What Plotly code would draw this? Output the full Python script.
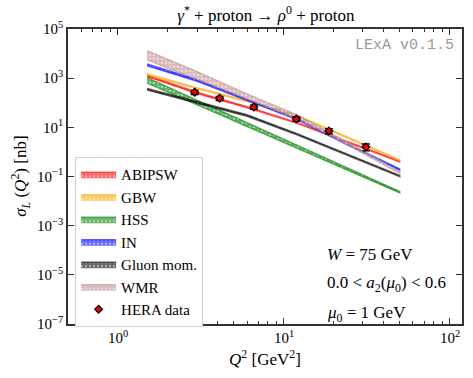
import plotly.graph_objects as go

# --- Data ---
q2_grid = [1.5, 3, 6, 12, 25, 50]

abipsw_hi = [1318, 269, 70, 15.8, 2.45, 0.427]
abipsw_lo = [1148, 234, 62.4, 14.5, 2.24, 0.389]

gbw_hi = [1514, 407, 123, 31.6, 3.72, 0.479]
gbw_lo = [1380, 372, 112, 28.8, 3.39, 0.437]

hss_hi = [1047, 126, 15.1, 1.82, 0.200, 0.0245]
hss_lo = [631, 83.2, 11.0, 1.45, 0.166, 0.0214]

in_hi = [3802, 881, 141, 23.4, 1.93, 0.202]
in_lo = [3162, 750, 123, 20.4, 1.72, 0.180]

gluon_hi = [380, 112, 32.4, 5.56, 0.750, 0.111]
gluon_lo = [331, 97.7, 28.2, 4.95, 0.668, 0.0989]

wmr_hi = [13183, 1862, 229, 32.4, 2.19, 0.158]
wmr_lo = [5495, 891, 145, 22.4, 1.74, 0.132]

hera_q2 = [2.9, 4.1, 6.6, 11.9, 18.7, 31.2]
hera_sigma = [267, 152, 67.5, 21.9, 7.1, 1.6]
hera_err = [50, 30, 13, 4.5, 1.7, 0.5]

x_ticks = [1, 10, 100]
x_ticklabels = ["10<sup>0</sup>", "10<sup>1</sup>", "10<sup>2</sup>"]

bands = [
    ("ABIPSW", abipsw_hi, abipsw_lo, "rgba(255,0,0,0.6)"),
    ("GBW", gbw_hi, gbw_lo, "rgba(255,165,0,0.6)"),
    ("HSS", hss_hi, hss_lo, "rgba(0,128,0,0.6)"),
    ("IN", in_hi, in_lo, "rgba(0,0,255,0.6)"),
    ("Gluon mom.", gluon_hi, gluon_lo, "rgba(0,0,0,0.6)"),
    ("WMR", wmr_hi, wmr_lo, "rgba(188,143,143,0.6)"),
]

SERIF = "Liberation Serif"

fig = go.Figure()

for name, hi, lo, col in bands:
    fig.add_trace(go.Scatter(
        x=q2_grid + q2_grid[::-1],
        y=hi + lo[::-1],
        mode="lines",
        fill="toself",
        fillcolor=col,
        fillpattern=dict(shape=".", fgcolor="white", bgcolor=col, size=4, solidity=0.25),
        line=dict(color=col, width=1.4),
        name=name,
    ))

fig.add_trace(go.Scatter(
    x=hera_q2, y=hera_sigma,
    mode="markers",
    marker=dict(symbol="diamond", color="#ee0000", size=6, line=dict(color="black", width=1.2)),
    error_y=dict(type="data", array=hera_err, color="black", thickness=1.3, width=4),
    name="HERA data",
))

fig.update_layout(
    width=473, height=378,
    margin=dict(l=68, r=9, t=29, b=54),
    plot_bgcolor="white", paper_bgcolor="white",
    font=dict(family=SERIF, size=14, color="black"),
    title=dict(text="<i>γ</i><sup>*</sup> + proton → <i>ρ</i><sup>0</sup> + proton",
               x=0.562, xanchor="center", y=0.96, yanchor="middle",
               font=dict(family=SERIF, size=17)),
    legend=dict(x=0.018, y=0.566, xanchor="left", yanchor="top",
                bgcolor="white", bordercolor="#d0d0d0", borderwidth=1,
                font=dict(family=SERIF, size=15), tracegroupgap=0, itemwidth=35),
    showlegend=True,
)

fig.update_xaxes(
    type="log", range=[-0.301, 2.074],
    tickvals=x_ticks, showticklabels=False,
    ticks="inside", ticklen=6, tickcolor="#333",
    minor=dict(ticks="inside", ticklen=3, tickcolor="#333",
               tickvals=[0.5, 0.6, 0.7, 0.8, 0.9, 2, 3, 4, 5, 6, 7, 8, 9,
                         20, 30, 40, 50, 60, 70, 80, 90]),
    showline=True, linecolor="#333", linewidth=1.5, mirror="ticks",
    showgrid=False, zeroline=False,
)

fig.update_yaxes(
    type="log", range=[-7, 5],
    tickvals=[1e5, 1e3, 1e1, 1e-1, 1e-3, 1e-5, 1e-7],
    ticktext=["10<sup>5</sup>", "10<sup>3</sup>", "10<sup>1</sup>", "10<sup>−1</sup>",
              "10<sup>−3</sup>", "10<sup>−5</sup>", "10<sup>−7</sup>"],
    ticks="inside", ticklen=6, tickcolor="#333",
    showline=True, linecolor="#333", linewidth=1.5, mirror="ticks",
    showgrid=False, zeroline=False,
    tickfont=dict(family=SERIF, size=15),
)

# x tick labels and axis titles placed as annotations
for i, lab in enumerate(x_ticklabels):
    fig.add_annotation(text=lab, xref="x", yref="paper", x=i,
                       y=-0.044, xanchor="center", yanchor="middle", showarrow=False,
                       font=dict(family=SERIF, size=15))

fig.add_annotation(text="<i>Q</i><sup>2</sup> [GeV<sup>2</sup>]", xref="paper", yref="paper",
                   x=0.5, y=-0.115, xanchor="center", yanchor="middle", showarrow=False,
                   font=dict(family=SERIF, size=17))
fig.add_annotation(text="<i>σ<sub>L</sub></i> (<i>Q</i><sup>2</sup>) [nb]", xref="paper", yref="paper",
                   x=-0.121, y=0.5, xanchor="center", yanchor="middle", showarrow=False,
                   textangle=-90, font=dict(family=SERIF, size=17))

fig.add_annotation(text="LExA v0.1.5", xref="paper", yref="paper", x=0.985, y=0.945,
                   xanchor="right", yanchor="middle", showarrow=False,
                   font=dict(family="Liberation Mono", size=15, color="#999999"))

for txt, ypix in [("<i>W</i> = 75 GeV", 254),
                  ("0.0 < <i>a</i><sub>2</sub>(<i>μ</i><sub>0</sub>) < 0.6", 284),
                  ("<i>μ</i><sub>0</sub> = 1 GeV", 314)]:
    fig.add_annotation(text=txt, xref="paper", yref="paper",
                       x=(326 - 68) / 396, y=(324 - ypix) / 295,
                       xanchor="left", yanchor="middle", showarrow=False,
                       font=dict(family=SERIF, size=17))

# drop the default page margin so the figure sits at the window's corner
fig.write_html("out.html", config={"displayModeBar": False},
               post_script="document.body.style.margin='0';")
